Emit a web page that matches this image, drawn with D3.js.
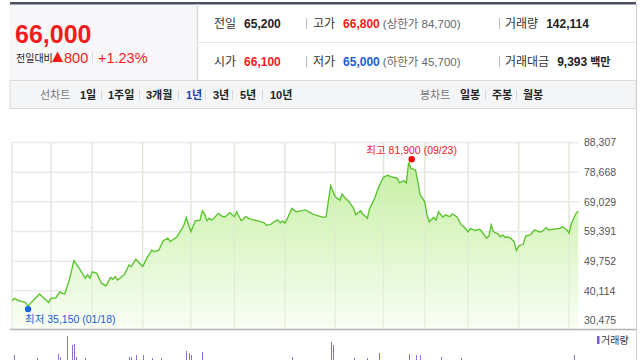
<!DOCTYPE html>
<html>
<head>
<meta charset="utf-8">
<script src="https://cdn.jsdelivr.net/npm/d3@7"></script>
<style>
  html, body { margin: 0; padding: 0; background: #fff; }
  svg { display: block; font-family: "Liberation Sans", Arial, "Noto Sans CJK KR", sans-serif; }
</style>
</head>
<body>
<svg id="chart" width="640" height="360"></svg>
<script>
// price trace, index = trading day (0 .. 247)
var priceDays = [0,1,3,6,7,9,12,14,16,17,19,21,22,23,25,27,29,32,33,34,35,37,39,41,43,44,45,46,49,51,52,54,57,59,61,62,64,66,68,69,72,74,75,76,78,80,82,83,84,85,86,87,88,90,92,93,95,97,98,100,102,104,107,110,111,113,115,116,117,118,119,120,122,124,126,128,131,134,136,137,139,141,143,144,145,147,149,150,152,153,155,156,158,160,162,164,165,168,169,171,172,173,174,176,177,178,180,181,182,184,185,186,188,189,191,192,194,196,197,199,200,202,204,205,207,208,209,210,212,213,214,215,217,219,220,221,223,224,226,228,230,231,233,234,236,239,240,242,243,244,246,247];
var prices = [36900,37700,36900,36300,35150,36800,39100,37700,36300,37700,37800,39800,39300,39100,43600,49900,47800,44200,45300,44200,46300,45800,42600,41700,44500,43900,44700,43600,45300,48500,48000,50400,48000,51000,53400,52800,53300,56400,57200,56100,57700,60200,61500,63900,59300,62900,63100,66100,65100,62900,63700,63100,63700,65300,64200,64200,65500,64200,65800,62900,64200,63400,62900,62200,61400,61800,62900,63100,62200,62800,62100,63400,66900,65800,66100,66400,65100,64400,64000,64200,74300,70700,69600,71600,70500,69100,66900,64800,66100,65100,63700,66900,69900,73900,77000,77700,77200,76700,75200,75900,75200,81900,79900,79400,75600,71300,69100,64800,62600,64000,63100,65800,64000,64800,64200,65100,64200,61500,61000,59300,60400,59700,60100,59300,57200,57900,61500,59300,58600,57700,58300,57500,57500,56100,53200,54700,55300,57900,58300,59900,59300,59300,60600,59900,60100,60400,61000,59900,58800,62100,65300,66000];
var monthStarts = [17,35,57,78,97,119,141,162,180,199,221,243];
var yTicks = [30475,40114,49752,59391,69029,78668,88307];
var volDays = [1,11,20,21,24,26,27,28,32,51,52,54,57,61,65,76,77,78,83,122,139,140,149,155,160,173,176,178,187,196,245];
var volumes = [447,368,474,395,947,711,737,395,368,395,395,447,447,368,368,553,500,447,526,395,797,711,368,368,500,474,447,447,395,368,447]; // thousand shares

var highLabel = "최고 81,900 (09/23)", lowLabel = "최저 35,150 (01/18)";
var highIdx = 173, lowIdx = 7;

var svg = d3.select("#chart");
var RED = "#f51b1b", BLUE = "#1a5fd6", DARK = "#222", GRAY = "#666";

// ---------- summary box ----------
svg.append("rect").attr("x", 10).attr("y", 4).attr("width", 187).attr("height", 76).attr("fill", "#f7f7f9");
svg.append("rect").attr("x", 10).attr("y", 2).attr("width", 626).attr("height", 2.5).attr("fill", "#4b5060");
svg.append("line").attr("x1", 197.5).attr("x2", 197.5).attr("y1", 4).attr("y2", 80).attr("stroke", "#dcdcdc").attr("stroke-width", 1.5);
svg.append("line").attr("x1", 198).attr("x2", 636).attr("y1", 42.5).attr("y2", 42.5).attr("stroke", "#e6e6e6");
svg.append("line").attr("x1", 636.5).attr("x2", 636.5).attr("y1", 4).attr("y2", 360).attr("stroke", "#d0d0d0");

svg.append("text").attr("x", 15).attr("y", 43).attr("fill", RED).attr("font-size", 25)
  .attr("font-weight", "bold").text("66,000");
svg.append("text").attr("x", 16).attr("y", 62).attr("font-size", 10).attr("fill", DARK).text("전일대비");
svg.append("path").attr("d", "M52,62 L57.5,51.5 L63,62 Z").attr("fill", RED);
svg.append("text").attr("x", 64).attr("y", 62.5).attr("fill", RED).attr("font-size", 14.5).text("800");
svg.append("line").attr("x1", 92.5).attr("x2", 92.5).attr("y1", 52).attr("y2", 63).attr("stroke", "#ddd");
svg.append("text").attr("x", 98).attr("y", 62.5).attr("fill", RED).attr("font-size", 14.5).text("+1.23%");

var rows = [
  {y: 28, items: [
    {x: 214, label: "전일", val: "65,200", color: DARK},
    {x: 313, label: "고가", val: "66,800", color: RED, extra: "(상한가 84,700)"},
    {x: 505, label: "거래량", val: "142,114", color: DARK}]},
  {y: 66, items: [
    {x: 214, label: "시가", val: "66,100", color: RED},
    {x: 313, label: "저가", val: "65,000", color: BLUE, extra: "(하한가 45,700)"},
    {x: 505, label: "거래대금", val: "9,393", color: DARK, unit: "백만"}]}
];
rows.forEach(function(r) {
  r.items.forEach(function(it) {
    var t = svg.append("text").attr("x", it.x).attr("y", r.y).attr("font-size", 12);
    t.append("tspan").attr("fill", "#333").text(it.label);
    t.append("tspan").attr("dx", 8).attr("fill", it.color).attr("font-weight", "bold").text(it.val);
    if (it.extra) t.append("tspan").attr("dx", 3).attr("fill", GRAY).attr("font-size", 11.5).text(it.extra);
    if (it.unit) t.append("tspan").attr("dx", 3).attr("fill", DARK).attr("font-weight", "bold").attr("font-size", 11).text(it.unit);
  });
  [306.5, 499.5].forEach(function(x) {
    svg.append("line").attr("x1", x).attr("x2", x).attr("y1", r.y - 10).attr("y2", r.y + 1).attr("stroke", "#bbb");
  });
});

// ---------- tab bar ----------
svg.append("rect").attr("x", 10).attr("y", 80.5).attr("width", 626).attr("height", 28)
  .attr("fill", "#f4f5f7").attr("stroke", "#dadada");
var tabsL = [["선차트", 40, "#777", "normal"], ["1일", 80, DARK, "bold"], ["1주일", 108, DARK, "bold"],
  ["3개월", 146, DARK, "bold"], ["1년", 186, "#1d3fa8", "bold"], ["3년", 213, DARK, "bold"],
  ["5년", 240, DARK, "bold"], ["10년", 270, DARK, "bold"],
  ["봉차트", 420, "#777", "normal"], ["일봉", 460, DARK, "bold"], ["주봉", 492, DARK, "bold"], ["월봉", 523, DARK, "bold"]];
tabsL.forEach(function(t) {
  svg.append("text").attr("x", t[1]).attr("y", 99).attr("font-size", 11).attr("fill", t[2])
    .attr("font-weight", t[3]).text(t[0]);
});
[101, 139, 178, 205, 232, 262, 485, 516].forEach(function(x) {
  svg.append("line").attr("x1", x + 0.5).attr("x2", x + 0.5).attr("y1", 90).attr("y2", 100).attr("stroke", "#d8d8d8");
});

// ---------- price chart ----------
var plotLeft = 12, plotRight = 579, plotTop = 142.5, plotBottom = 329;
var x = d3.scaleLinear().domain([0, 247]).range([plotLeft, plotRight - 0.7]);
var y = d3.scaleLinear().domain([30475, 88307]).range([320.5, plotTop]);

var defs = svg.append("defs");
var grad = defs.append("linearGradient").attr("id", "fillG").attr("gradientUnits", "userSpaceOnUse")
  .attr("x1", 0).attr("x2", 0).attr("y1", plotTop).attr("y2", plotBottom);
grad.append("stop").attr("offset", 0).attr("stop-color", "#b4ea86");
grad.append("stop").attr("offset", 1).attr("stop-color", "#f8fef3");

var g = svg.append("g");
g.append("line").attr("x1", plotLeft).attr("x2", plotLeft).attr("y1", plotTop).attr("y2", plotBottom)
  .attr("stroke", "#e6e6e6").attr("stroke-width", 1.5);
g.selectAll(".vgrid").data(monthStarts).enter().append("line")
  .attr("x1", function(d) { return x(d); }).attr("x2", function(d) { return x(d); })
  .attr("y1", plotTop).attr("y2", plotBottom).attr("stroke", "#e9e9e9").attr("stroke-width", 1.5);
g.selectAll(".hgrid").data(yTicks).enter().append("line")
  .attr("x1", plotLeft).attr("x2", plotRight)
  .attr("y1", function(d) { return y(d); }).attr("y2", function(d) { return y(d); })
  .attr("stroke", "#e9e9e9").attr("stroke-width", 1.5);

var pts = priceDays.map(function(d, i) { return [d, prices[i]]; });
var area = d3.area().x(function(d) { return x(d[0]); }).y0(plotBottom).y1(function(d) { return y(d[1]); });
var line = d3.line().x(function(d) { return x(d[0]); }).y(function(d) { return y(d[1]); });
g.append("path").datum(pts).attr("d", area).attr("fill", "url(#fillG)").attr("opacity", 0.85);
// gridlines faintly visible through the fill
g.selectAll(".vgrid2").data(monthStarts).enter().append("line")
  .attr("x1", function(d) { return x(d); }).attr("x2", function(d) { return x(d); })
  .attr("y1", plotTop).attr("y2", plotBottom).attr("stroke", "#e2ead8").attr("stroke-width", 1.5).attr("opacity", 0.6);
g.append("path").datum(pts).attr("d", line).attr("fill", "none").attr("stroke", "#5cc531").attr("stroke-width", 1.4);

svg.append("line").attr("x1", 10).attr("x2", 636).attr("y1", plotBottom + 0.5).attr("y2", plotBottom + 0.5)
  .attr("stroke", "#b5b5b5").attr("stroke-width", 1.5);

// y axis labels
var yAxis = d3.axisRight(y).tickValues(yTicks).tickSize(0).tickPadding(0).tickFormat(d3.format(","));
var ya = svg.append("g").attr("transform", "translate(584,0)").call(yAxis);
ya.select(".domain").remove();
ya.selectAll("text").attr("font-size", 10.5).attr("fill", "#555").attr("font-family", "'Liberation Sans', Arial, sans-serif");

// high / low markers
svg.append("circle").attr("cx", x(highIdx) + 3).attr("cy", y(81900) - 3).attr("r", 3.2).attr("fill", "#f00");
svg.append("text").attr("x", x(highIdx) + 3).attr("y", 154).attr("text-anchor", "middle")
  .attr("font-size", 10.5).attr("fill", "#f01818").text(highLabel);
svg.append("circle").attr("cx", x(lowIdx)).attr("cy", y(35150) + 3).attr("r", 3.2).attr("fill", "#1565e0");
svg.append("text").attr("x", 25).attr("y", 323).attr("font-size", 10.5).attr("fill", "#1a5bd0").text(lowLabel);

// ---------- volume ----------
var v = d3.scaleLinear().domain([0, 1000]).range([372, 334]);
svg.selectAll(".vol").data(volDays).enter().append("line")
  .attr("x1", function(d) { return Math.round(x(d)) + 0.5; }).attr("x2", function(d) { return Math.round(x(d)) + 0.5; })
  .attr("y1", 360).attr("y2", function(d, i) { return v(volumes[i]); })
  .attr("stroke", "#8c6fd0").attr("stroke-width", 1);
svg.append("rect").attr("x", 597).attr("y", 336).attr("width", 2.5).attr("height", 8).attr("fill", "#7a5cc8");
svg.append("text").attr("x", 601).attr("y", 344).attr("font-size", 10).attr("fill", "#333").text("거래량");
</script>
</body>
</html>
